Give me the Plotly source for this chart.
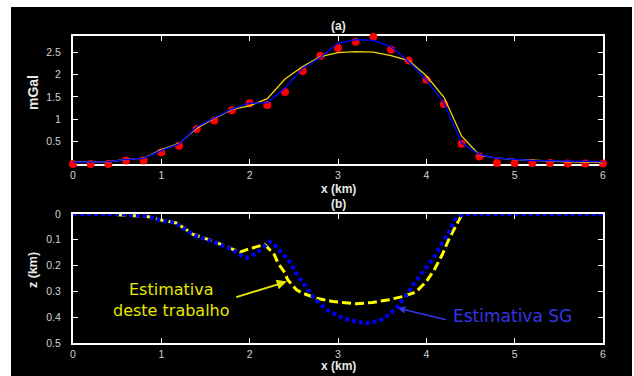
import plotly.graph_objects as go

# ---------------- data ----------------
x_obs = [0.0, 0.2, 0.4, 0.6, 0.8, 1.0, 1.2, 1.4, 1.6, 1.8, 2.0, 2.2, 2.4, 2.6, 2.8, 3.0,
         3.2, 3.4, 3.6, 3.8, 4.0, 4.2, 4.4, 4.6, 4.8, 5.0, 5.2, 5.4, 5.6, 5.8, 6.0]
g_obs = [0.00, 0.00, 0.00, 0.08, 0.08, 0.26, 0.41, 0.78, 0.97, 1.20, 1.36, 1.32, 1.61, 2.08,
         2.42, 2.59, 2.73, 2.84, 2.56, 2.31, 1.88, 1.34, 0.45, 0.17, 0.02, 0.02, 0.02, 0.02,
         0.01, 0.01, 0.01]
g_sg = [0.04, 0.04, 0.05, 0.10, 0.13, 0.30, 0.45, 0.83, 1.03, 1.23, 1.36, 1.37, 1.70, 2.14,
        2.38, 2.70, 2.78, 2.76, 2.62, 2.29, 1.88, 1.36, 0.47, 0.21, 0.13, 0.10, 0.08, 0.07,
        0.06, 0.05, 0.05]
g_this = [0.04, 0.04, 0.05, 0.10, 0.13, 0.32, 0.46, 0.80, 1.02, 1.22, 1.30, 1.46, 1.90, 2.18,
          2.40, 2.49, 2.51, 2.50, 2.42, 2.31, 1.97, 1.49, 0.62, 0.20, 0.13, 0.10, 0.08, 0.06,
          0.05, 0.04, 0.03]

x_sg = [0.0, 0.5, 0.7, 0.83, 0.98, 1.17, 1.28, 1.36, 1.585, 1.81, 1.89, 1.96, 2.075, 2.17,
        2.23, 2.30, 2.38, 2.45, 2.55, 2.64, 2.73, 2.87, 3.05, 3.24, 3.32, 3.47, 3.58, 3.68,
        3.77, 3.865, 3.98, 4.09, 4.18, 4.26, 4.32, 4.39, 4.45, 6.0]
z_sg = [0.0, 0.0, 0.005, 0.008, 0.023, 0.036, 0.062, 0.081, 0.107, 0.139, 0.158, 0.171, 0.152,
        0.126, 0.107, 0.126, 0.158, 0.184, 0.242, 0.287, 0.326, 0.371, 0.403, 0.420, 0.423,
        0.414, 0.390, 0.358, 0.313, 0.268, 0.216, 0.165, 0.113, 0.068, 0.023, 0.004, 0.0, 0.0]

x_this = [0.5, 0.7, 0.83, 0.98, 1.17, 1.28, 1.36, 1.585, 1.81, 1.89, 1.96, 2.075, 2.17, 2.28,
          2.32, 2.40, 2.43, 2.53, 2.60, 2.75, 2.94, 3.205, 3.39, 3.58, 3.73, 3.88, 4.0, 4.09,
          4.18, 4.26, 4.335, 4.39, 4.42]
z_this = [0.003, 0.006, 0.009, 0.022, 0.035, 0.060, 0.079, 0.105, 0.136, 0.148, 0.139, 0.126,
          0.118, 0.158, 0.190, 0.229, 0.255, 0.294, 0.307, 0.326, 0.339, 0.348, 0.343, 0.332,
          0.320, 0.303, 0.262, 0.216, 0.158, 0.094, 0.043, 0.010, 0.0]

x_ticks = [0, 1, 2, 3, 4, 5, 6]
g_ticks = [0.5, 1, 1.5, 2, 2.5]
z_ticks = [0, 0.1, 0.2, 0.3, 0.4, 0.5]
z_ticklabels = ["0", "0.1", "0.2", "0.3", "0.4", "0.5"]

# ---------------- figure ----------------
W, H = 634, 376
ML, MR, MT, MB = 73, 31, 36, 33
PW, PH = W - ML - MR, H - MT - MB

FONT = "Liberation Sans, Arial, sans-serif"
TICKC = "#d2d2d2"
TITC = "#e8e8e8"
YEL = "#ffff00"
YEL_TOP = "#f0d800"
BLUE = "#0000f0"

fig = go.Figure()

fig.add_trace(go.Scatter(x=x_obs, y=g_obs, mode="markers", cliponaxis=False,
                         marker=dict(color="#ff0000", size=8), xaxis="x", yaxis="y",
                         showlegend=False))
fig.add_trace(go.Scatter(x=x_obs, y=g_this, mode="lines", cliponaxis=False,
                         line=dict(color=YEL_TOP, width=1.3), xaxis="x", yaxis="y",
                         showlegend=False))
fig.add_trace(go.Scatter(x=x_obs, y=g_sg, mode="lines", cliponaxis=False,
                         line=dict(color=BLUE, width=1.5), xaxis="x", yaxis="y",
                         showlegend=False))

fig.add_trace(go.Scatter(x=x_this, y=z_this, mode="lines", cliponaxis=False,
                         line=dict(color=YEL, width=3, dash="9px,4px"), xaxis="x2", yaxis="y2",
                         showlegend=False))
fig.add_trace(go.Scatter(x=x_sg, y=z_sg, mode="lines", cliponaxis=False,
                         line=dict(color=BLUE, width=4, dash="4px,3px"), xaxis="x2", yaxis="y2",
                         showlegend=False))

axis_common = dict(showline=True, linecolor="white", linewidth=2, mirror="ticks",
                   ticks="inside", tickcolor="white", ticklen=5, tickwidth=1,
                   showgrid=False, zeroline=False, layer="below traces",
                   tickfont=dict(family=FONT, size=10.5, color=TICKC))

top_dom = [1 - (164 - MT) / PH, 1]
bot_dom = [0, 1 - (214 - MT) / PH]

fig.update_layout(
    width=W, height=H,
    margin=dict(l=ML, r=MR, t=MT, b=MB),
    paper_bgcolor="white", plot_bgcolor="black",
    xaxis=dict(axis_common, range=[0, 6], tickvals=x_ticks, anchor="y", domain=[0, 1]),
    yaxis=dict(axis_common, range=[0, 2.86], tickvals=g_ticks, anchor="x", domain=top_dom,
               ticklabelstandoff=8),
    xaxis2=dict(axis_common, range=[0, 6], tickvals=x_ticks, anchor="y2", domain=[0, 1]),
    yaxis2=dict(axis_common, range=[0.5, 0], tickvals=z_ticks, ticktext=z_ticklabels,
                anchor="x2", domain=bot_dom, ticklabelstandoff=8),
)

def px2paper_x(px):
    return (px - ML) / PW

def py2paper_y(py):
    return (H - MB - py) / PH

fig.add_shape(type="rect", xref="paper", yref="paper", layer="below",
              x0=px2paper_x(11), x1=px2paper_x(632), y0=py2paper_y(376), y1=py2paper_y(7),
              fillcolor="black", line=dict(width=0))

title_font = dict(family=FONT, size=12, color=TITC)
ann = [
    dict(text="<b>(a)</b>", x=3, xref="x", y=py2paper_y(26), yref="paper"),
    dict(text="<b>x (km)</b>", x=3, xref="x", y=py2paper_y(188.5), yref="paper"),
    dict(text="<b>(b)</b>", x=3, xref="x2", y=py2paper_y(204), yref="paper"),
    dict(text="<b>x (km)</b>", x=3, xref="x2", y=py2paper_y(366), yref="paper"),
]
for a in ann:
    fig.add_annotation(showarrow=False, font=title_font, xanchor="center", yanchor="middle", **a)

fig.add_annotation(text="<b>mGal</b>", textangle=-90, showarrow=False,
                   xanchor="center", yanchor="middle",
                   x=px2paper_x(33), xref="paper", y=py2paper_y(93), yref="paper",
                   font=dict(family=FONT, size=14, color=TITC))
fig.add_annotation(text="<b>z (km)</b>", textangle=-90, showarrow=False,
                   xanchor="center", yanchor="middle",
                   x=px2paper_x(33), xref="paper", y=py2paper_y(270), yref="paper",
                   font=dict(family=FONT, size=12.5, color=TITC))

# callouts
fig.add_annotation(text="Estimativa<br>deste trabalho", showarrow=False,
                   x=1.115, xref="x2", y=0.334, yref="y2",
                   font=dict(family="DejaVu Sans, sans-serif", size=16, color="#e6e600"))
fig.add_annotation(text="", x=2.42, y=0.262, xref="x2", yref="y2", ax=-52, ay=16,
                   showarrow=True, arrowhead=2, arrowsize=1, arrowwidth=2, arrowcolor="#e6e600")
fig.add_annotation(text="Estimativa SG", showarrow=False,
                   x=4.98, xref="x2", y=0.394, yref="y2",
                   font=dict(family="DejaVu Sans, sans-serif", size=17, color="#3535e8"))
fig.add_annotation(text="", x=3.676, y=0.3645, xref="x2", yref="y2", ax=50, ay=12,
                   showarrow=True, arrowhead=2, arrowsize=1, arrowwidth=1.5, arrowcolor="#3535e8")

fig.write_html("out.html")
